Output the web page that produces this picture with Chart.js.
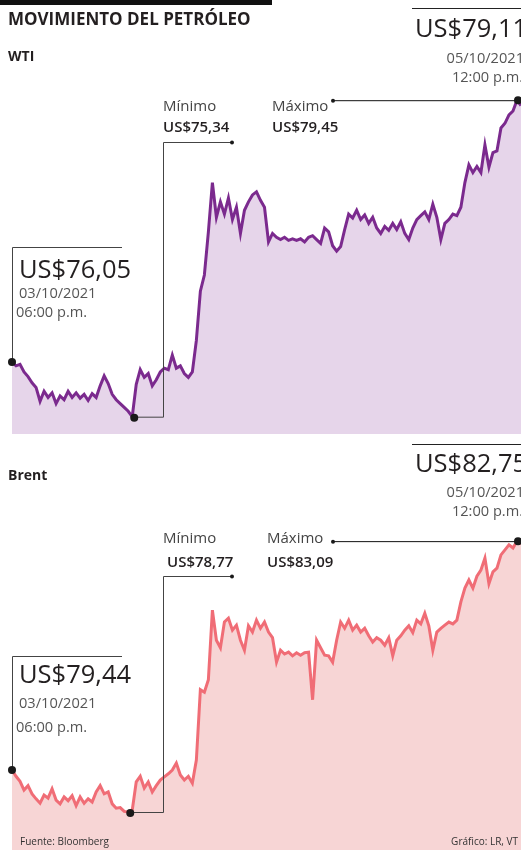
<!DOCTYPE html>
<html>
<head>
<meta charset="utf-8">
<script src="https://cdn.jsdelivr.net/npm/chart.js@4.4.0/dist/chart.umd.min.js"></script>
<style>
  body { margin:0; width:521px; height:850px; overflow:hidden; background:#fff; position:relative;
         font-family:"Open Sans", sans-serif; color:#231f20; }
  canvas { position:absolute; left:0; }
  .t { position:absolute; white-space:nowrap; line-height:1; }
  .big { font-size:25.5px; }
  .date { font-size:14.6px; color:#555; }
  .lab { font-size:15px; color:#444; }
  .val { font-size:15px; font-weight:600; }
  .sm { font-size:10px; color:#333; }
  .rule { position:absolute; height:1px; background:#222; left:412px; width:109px; }
  .bar { position:absolute; left:0; top:0; width:272px; height:5px; background:#111; }
</style>
</head>
<body>
<div class="bar"></div>
<canvas id="wti" width="521" height="434" style="top:0;width:521px;height:434px"></canvas>
<canvas id="brent" width="521" height="410" style="top:440px;width:521px;height:410px"></canvas>

<!-- textos WTI -->
<div class="t" data-b="25" style="left:8px;font-size:17px;font-weight:700">MOVIMIENTO DEL PETRÓLEO</div>
<div class="t" data-b="61" style="left:8px;font-size:14px;font-weight:700">WTI</div>
<div class="t lab" data-b="111" style="left:163px">Mínimo</div>
<div class="t val" data-b="132" style="left:163px">US$75,34</div>
<div class="t lab" data-b="111" style="left:272px">Máximo</div>
<div class="t val" data-b="132" style="left:272px">US$79,45</div>
<div class="rule" style="top:8px"></div>
<div class="t big" data-b="37" style="left:415px">US$79,11</div>
<div class="t date" data-b="63" style="right:-3px">05/10/2021</div>
<div class="t date" data-b="82" style="right:-2px">12:00 p.m.</div>
<div class="t big" data-b="278" style="left:19px">US$76,05</div>
<div class="t date" data-b="298" style="left:19px">03/10/2021</div>
<div class="t date" data-b="317" style="left:16px">06:00 p.m.</div>

<!-- textos Brent -->
<div class="t" data-b="480" style="left:8px;font-size:14px;font-weight:700">Brent</div>
<div class="t lab" data-b="543" style="left:163px">Mínimo</div>
<div class="t val" data-b="567" style="left:167px">US$78,77</div>
<div class="t lab" data-b="543" style="left:267px">Máximo</div>
<div class="t val" data-b="567" style="left:267px">US$83,09</div>
<div class="rule" style="top:444px"></div>
<div class="t big" data-b="472" style="left:415px">US$82,75</div>
<div class="t date" data-b="497" style="right:-3px">05/10/2021</div>
<div class="t date" data-b="516" style="right:-2px">12:00 p.m.</div>
<div class="t big" data-b="683" style="left:19px">US$79,44</div>
<div class="t date" data-b="708" style="left:19px">03/10/2021</div>
<div class="t date" data-b="732" style="left:16px">06:00 p.m.</div>
<div class="t sm" data-b="845" style="left:20px">Fuente: Bloomberg</div>
<div class="t sm" data-b="845" style="right:3px">Gráfico: LR, VT</div>

<script>
// precios WTI (03/10 6:00 p.m. -> 05/10 12:00 p.m.)
const wtiValues = [
  76.05, 76.00, 76.02, 75.92, 75.86, 75.78, 75.72, 75.54, 75.67, 75.59,
  75.65, 75.51, 75.61, 75.56, 75.67, 75.59, 75.65, 75.58, 75.63, 75.55,
  75.64, 75.59, 75.74, 75.87, 75.77, 75.63, 75.56, 75.51, 75.46, 75.41,
  75.34, 75.76, 75.95, 75.85, 75.90, 75.74, 75.82, 75.92, 75.97, 75.95,
  76.14, 75.97, 76.00, 75.90, 75.85, 75.92, 76.33, 76.97, 77.18, 77.74,
  78.38, 77.93, 78.13, 77.97, 78.18, 77.90, 78.06, 77.72, 78.02, 78.13,
  78.22, 78.26, 78.15, 78.06, 77.61, 77.72, 77.67, 77.64, 77.67, 77.63,
  77.65, 77.63, 77.65, 77.61, 77.67, 77.69, 77.64, 77.59, 77.79, 77.74,
  77.56, 77.49, 77.55, 77.77, 77.97, 77.92, 78.02, 77.90, 77.96, 77.85,
  77.93, 77.79, 77.72, 77.81, 77.76, 77.85, 77.77, 77.87, 77.72, 77.64,
  77.79, 77.90, 77.95, 78.00, 77.90, 78.10, 77.93, 77.64, 77.85, 77.90,
  77.97, 77.95, 78.06, 78.38, 78.61, 78.51, 78.59, 78.51, 78.87, 78.58,
  78.77, 78.79, 79.09, 79.15, 79.26, 79.31, 79.45, 79.38
];

// precios Brent, mismo periodo
const brentValues = [
  79.44, 79.34, 79.26, 79.12, 79.19, 79.06, 78.98, 78.91, 79.04, 78.99,
  79.14, 78.96, 78.90, 79.01, 78.95, 79.03, 78.87, 79.01, 78.91, 78.98,
  78.93, 79.09, 79.19, 79.06, 79.09, 78.90, 78.83, 78.84, 78.78, 78.77,
  78.80, 79.25, 79.34, 79.15, 79.25, 79.09, 79.19, 79.28, 79.33, 79.38,
  79.44, 79.55, 79.36, 79.28, 79.34, 79.23, 79.60, 80.72, 80.68, 80.88,
  81.99, 81.51, 81.39, 81.80, 81.86, 81.67, 81.75, 81.51, 81.35, 81.74,
  81.64, 81.83, 81.70, 81.80, 81.64, 81.55, 81.16, 81.35, 81.29, 81.32,
  81.26, 81.31, 81.27, 81.31, 81.32, 80.56, 81.51, 81.39, 81.27, 81.26,
  81.16, 81.51, 81.80, 81.70, 81.83, 81.67, 81.75, 81.64, 81.70, 81.58,
  81.48, 81.55, 81.51, 81.43, 81.55, 81.26, 81.51, 81.58, 81.67, 81.74,
  81.63, 81.83, 81.77, 81.94, 81.74, 81.35, 81.64, 81.70, 81.75, 81.80,
  81.77, 81.83, 82.12, 82.34, 82.47, 82.34, 82.53, 82.63, 82.82, 82.41,
  82.60, 82.66, 82.87, 82.95, 83.03, 82.98, 83.09, 83.05
];

const labels = wtiValues.map((_, i) => i);   // un punto por intervalo

// lineas guia de las anotaciones (inicio, minimo, maximo)
const leaders = {
  id: 'leaders',
  afterDatasetsDraw(chart, args, o) {
    const ctx = chart.ctx;
    const pts = chart.getDatasetMeta(0).data;
    const p0 = pts[0], pMin = pts[o.minIdx], pMax = pts[o.maxIdx];
    const top = chart.canvas.offsetTop;
    ctx.save();
    ctx.lineWidth = 1;
    ctx.strokeStyle = '#444';
    ctx.beginPath();
    ctx.moveTo(12.5, p0.y); ctx.lineTo(12.5, o.startTop - top + 0.5); ctx.lineTo(122, o.startTop - top + 0.5);
    ctx.moveTo(pMin.x, pMin.y + 0.5); ctx.lineTo(163.5, pMin.y + 0.5);
    ctx.lineTo(163.5, o.minTop - top + 0.5); ctx.lineTo(232, o.minTop - top + 0.5);
    ctx.stroke();
    ctx.strokeStyle = '#111';
    ctx.beginPath();
    ctx.moveTo(pMax.x, pMax.y + 0.5); ctx.lineTo(o.maxLeft, pMax.y + 0.5);
    ctx.stroke();
    ctx.fillStyle = '#1a1a1a';
    const dot = (x, y, r) => { ctx.beginPath(); ctx.arc(x, y, r, 0, Math.PI * 2); ctx.fill(); };
    dot(12, p0.y, 4); dot(pMin.x + 2, pMin.y + 1, 4); dot(pMax.x + 1, pMax.y, 4);
    dot(232, o.minTop - top + 0.5, 2); dot(o.maxLeft, pMax.y + 0.5, 2);
    ctx.restore();
  }
};

function drawArea(id, values, line, fill, yMin, yMax, padTop, guide) {
  return new Chart(document.getElementById(id), {
    type: 'line',
    data: {
      labels,
      datasets: [{ data: values, borderColor: line, backgroundColor: fill, fill: 'start',
                   borderWidth: 3, pointRadius: 0, tension: 0, borderJoinStyle: 'miter' }]
    },
    options: {
      responsive: false, animation: false,
      layout: { padding: { left: 12, top: padTop, right: 0, bottom: 0 } },
      scales: { x: { display: false }, y: { display: false, min: yMin, max: yMax } },
      plugins: { legend: { display: false }, tooltip: { enabled: false }, leaders: guide }
    },
    plugins: [leaders]
  });
}

drawArea('wti', wtiValues, '#7b2a8e', '#e6d5ea', 75.115, 79.972, 60,
  { minIdx: 30, maxIdx: 126, startTop: 247, minTop: 142, maxLeft: 333 });
drawArea('brent', brentValues, '#f06d76', '#f7d5d5', 78.164, 84.065, 40,
  { minIdx: 29, maxIdx: 126, startTop: 656, minTop: 576, maxLeft: 333 });

// colocar cada texto por su linea base
document.querySelectorAll('.t').forEach(el => {
  const m = document.createElement('span');
  m.style.cssText = 'display:inline-block;width:0;height:0';
  el.appendChild(m);
  el.style.top = '0px';
  const base = m.offsetTop - el.offsetTop;
  el.style.top = (+el.dataset.b - base) + 'px';
});
</script>
</body>
</html>
